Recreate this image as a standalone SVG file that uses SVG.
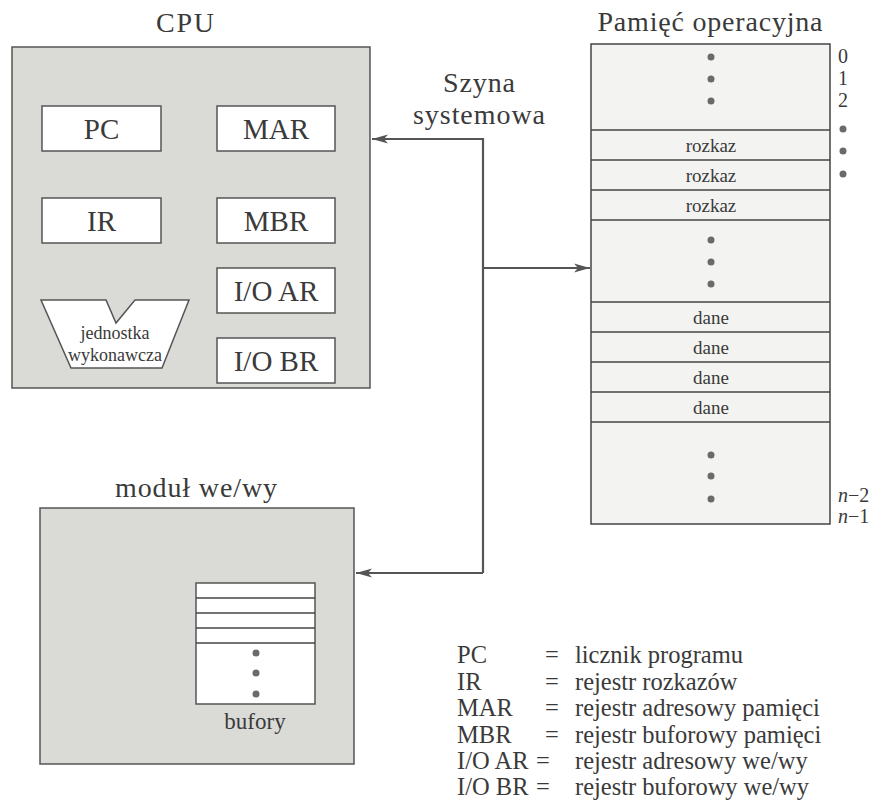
<svg xmlns="http://www.w3.org/2000/svg" width="875" height="803" viewBox="0 0 875 803" font-family="'Liberation Serif', serif">
<defs>
<style>
text{font-family:'Liberation Serif',serif;fill:#3a3a3a}
.title{font-size:28px;text-anchor:middle}
.reg{font-size:29px;text-anchor:middle}
.cell{font-size:19px;text-anchor:middle}
.lbl{font-size:20px}
.leg{font-size:24.5px}
.panel{fill:#dadad7;stroke:#555;stroke-width:1.5}
.box{fill:#ffffff;stroke:#555;stroke-width:1.5}
.mem{fill:#f3f3f2;stroke:#444;stroke-width:1.5}
.row{stroke:#444;stroke-width:1.5}
.dot{fill:#6a6a6a}
.bus{fill:none;stroke:#555;stroke-width:2.2}
</style>
<marker id="arr" markerWidth="17" markerHeight="10" refX="16" refY="5" orient="auto" markerUnits="userSpaceOnUse">
<path d="M0,0.5 L16,5 L0,9.5 L4,5 Z" fill="#555"/>
</marker>
</defs>
<rect width="875" height="803" fill="#ffffff"/>

<g id="cpu">
<text class="title" x="185" y="32" textLength="58">CPU</text>
<rect class="panel" x="12" y="47" width="358" height="341"/>
<g id="pc"><rect class="box" x="42" y="106" width="119" height="45"/><text class="reg" x="101.5" y="139">PC</text></g>
<g id="mar"><rect class="box" x="217" y="106" width="118" height="45"/><text class="reg" x="276" y="139">MAR</text></g>
<g id="ir"><rect class="box" x="42" y="198" width="119" height="45"/><text class="reg" x="101.5" y="231">IR</text></g>
<g id="mbr"><rect class="box" x="217" y="198" width="118" height="45"/><text class="reg" x="276" y="231">MBR</text></g>
<g id="ioar"><rect class="box" x="217" y="268" width="118" height="45"/><text class="reg" x="276" y="301">I/O AR</text></g>
<g id="iobr"><rect class="box" x="217" y="338" width="118" height="45"/><text class="reg" x="276" y="371">I/O BR</text></g>
<g id="alu">
<path class="box" d="M41,300 L106,300 L116,323 L135,300 L189,300 L162,368 L71,368 Z"/>
<text class="cell" x="115" y="339" style="font-size:18px">jednostka</text>
<text class="cell" x="115" y="361" style="font-size:18px">wykonawcza</text>
</g>
</g>

<g id="memory">
<text class="title" x="710" y="31" textLength="225">Pamięć operacyjna</text>
<rect class="mem" x="591" y="44" width="239" height="480"/>
<line class="row" x1="591" y1="130" x2="830" y2="130"/>
<line class="row" x1="591" y1="160" x2="830" y2="160"/>
<line class="row" x1="591" y1="190" x2="830" y2="190"/>
<line class="row" x1="591" y1="220" x2="830" y2="220"/>
<line class="row" x1="591" y1="302" x2="830" y2="302"/>
<line class="row" x1="591" y1="332" x2="830" y2="332"/>
<line class="row" x1="591" y1="362" x2="830" y2="362"/>
<line class="row" x1="591" y1="392" x2="830" y2="392"/>
<line class="row" x1="591" y1="422" x2="830" y2="422"/>
<circle class="dot" cx="711" cy="57" r="3.5"/>
<circle class="dot" cx="711" cy="79" r="3.5"/>
<circle class="dot" cx="711" cy="101" r="3.5"/>
<text class="cell" x="711" y="152">rozkaz</text>
<text class="cell" x="711" y="182">rozkaz</text>
<text class="cell" x="711" y="212">rozkaz</text>
<circle class="dot" cx="711" cy="240" r="3.5"/>
<circle class="dot" cx="711" cy="262" r="3.5"/>
<circle class="dot" cx="711" cy="284" r="3.5"/>
<text class="cell" x="711" y="324">dane</text>
<text class="cell" x="711" y="354">dane</text>
<text class="cell" x="711" y="384">dane</text>
<text class="cell" x="711" y="414">dane</text>
<circle class="dot" cx="711" cy="455" r="3.5"/>
<circle class="dot" cx="711" cy="476" r="3.5"/>
<circle class="dot" cx="711" cy="499" r="3.5"/>
<text class="lbl" x="838" y="63">0</text>
<text class="lbl" x="838" y="85">1</text>
<text class="lbl" x="838" y="107">2</text>
<circle class="dot" cx="843" cy="129" r="3.5"/>
<circle class="dot" cx="843" cy="151" r="3.5"/>
<circle class="dot" cx="843" cy="174" r="3.5"/>
<text class="lbl" x="838" y="502"><tspan style="font-style:italic">n</tspan>−2</text>
<text class="lbl" x="838" y="523"><tspan style="font-style:italic">n</tspan>−1</text>
</g>

<g id="io">
<text class="title" x="196" y="497" textLength="162">moduł we/wy</text>
<rect class="panel" x="40" y="508" width="314" height="256"/>
<rect class="box" x="196" y="583" width="119" height="121"/>
<line class="row" x1="196" y1="598" x2="315" y2="598"/>
<line class="row" x1="196" y1="613" x2="315" y2="613"/>
<line class="row" x1="196" y1="628" x2="315" y2="628"/>
<line class="row" x1="196" y1="643" x2="315" y2="643"/>
<circle class="dot" cx="256" cy="653" r="3.5"/>
<circle class="dot" cx="256" cy="673" r="3.5"/>
<circle class="dot" cx="256" cy="694" r="3.5"/>
<text class="cell" x="255" y="729" style="font-size:23px">bufory</text>
</g>

<g id="bus-label">
<text class="title" x="479" y="92" textLength="72">Szyna</text>
<text class="title" x="479" y="124" textLength="132">systemowa</text>
</g>

<g id="connectors">
<polyline class="bus" points="483,573 483,139 372,139" marker-end="url(#arr)"/>
<line class="bus" x1="483" y1="573" x2="356" y2="573" marker-end="url(#arr)"/>
<line class="bus" x1="483" y1="268" x2="590" y2="268" marker-end="url(#arr)"/>
</g>

<g id="legend">
<text class="leg" x="457" y="663">PC</text><text class="leg" x="545" y="663">=</text><text class="leg" x="575" y="663">licznik programu</text>
<text class="leg" x="457" y="689.5">IR</text><text class="leg" x="545" y="689.5">=</text><text class="leg" x="575" y="689.5">rejestr rozkazów</text>
<text class="leg" x="457" y="716">MAR</text><text class="leg" x="545" y="716">=</text><text class="leg" x="575" y="716">rejestr adresowy pamięci</text>
<text class="leg" x="457" y="742.5">MBR</text><text class="leg" x="545" y="742.5">=</text><text class="leg" x="575" y="742.5">rejestr buforowy pamięci</text>
<text class="leg" x="457" y="769">I/O AR</text><text class="leg" x="536" y="769">=</text><text class="leg" x="575" y="769">rejestr adresowy we/wy</text>
<text class="leg" x="457" y="795">I/O BR</text><text class="leg" x="536" y="795">=</text><text class="leg" x="575" y="795">rejestr buforowy we/wy</text>
</g>
</svg>
